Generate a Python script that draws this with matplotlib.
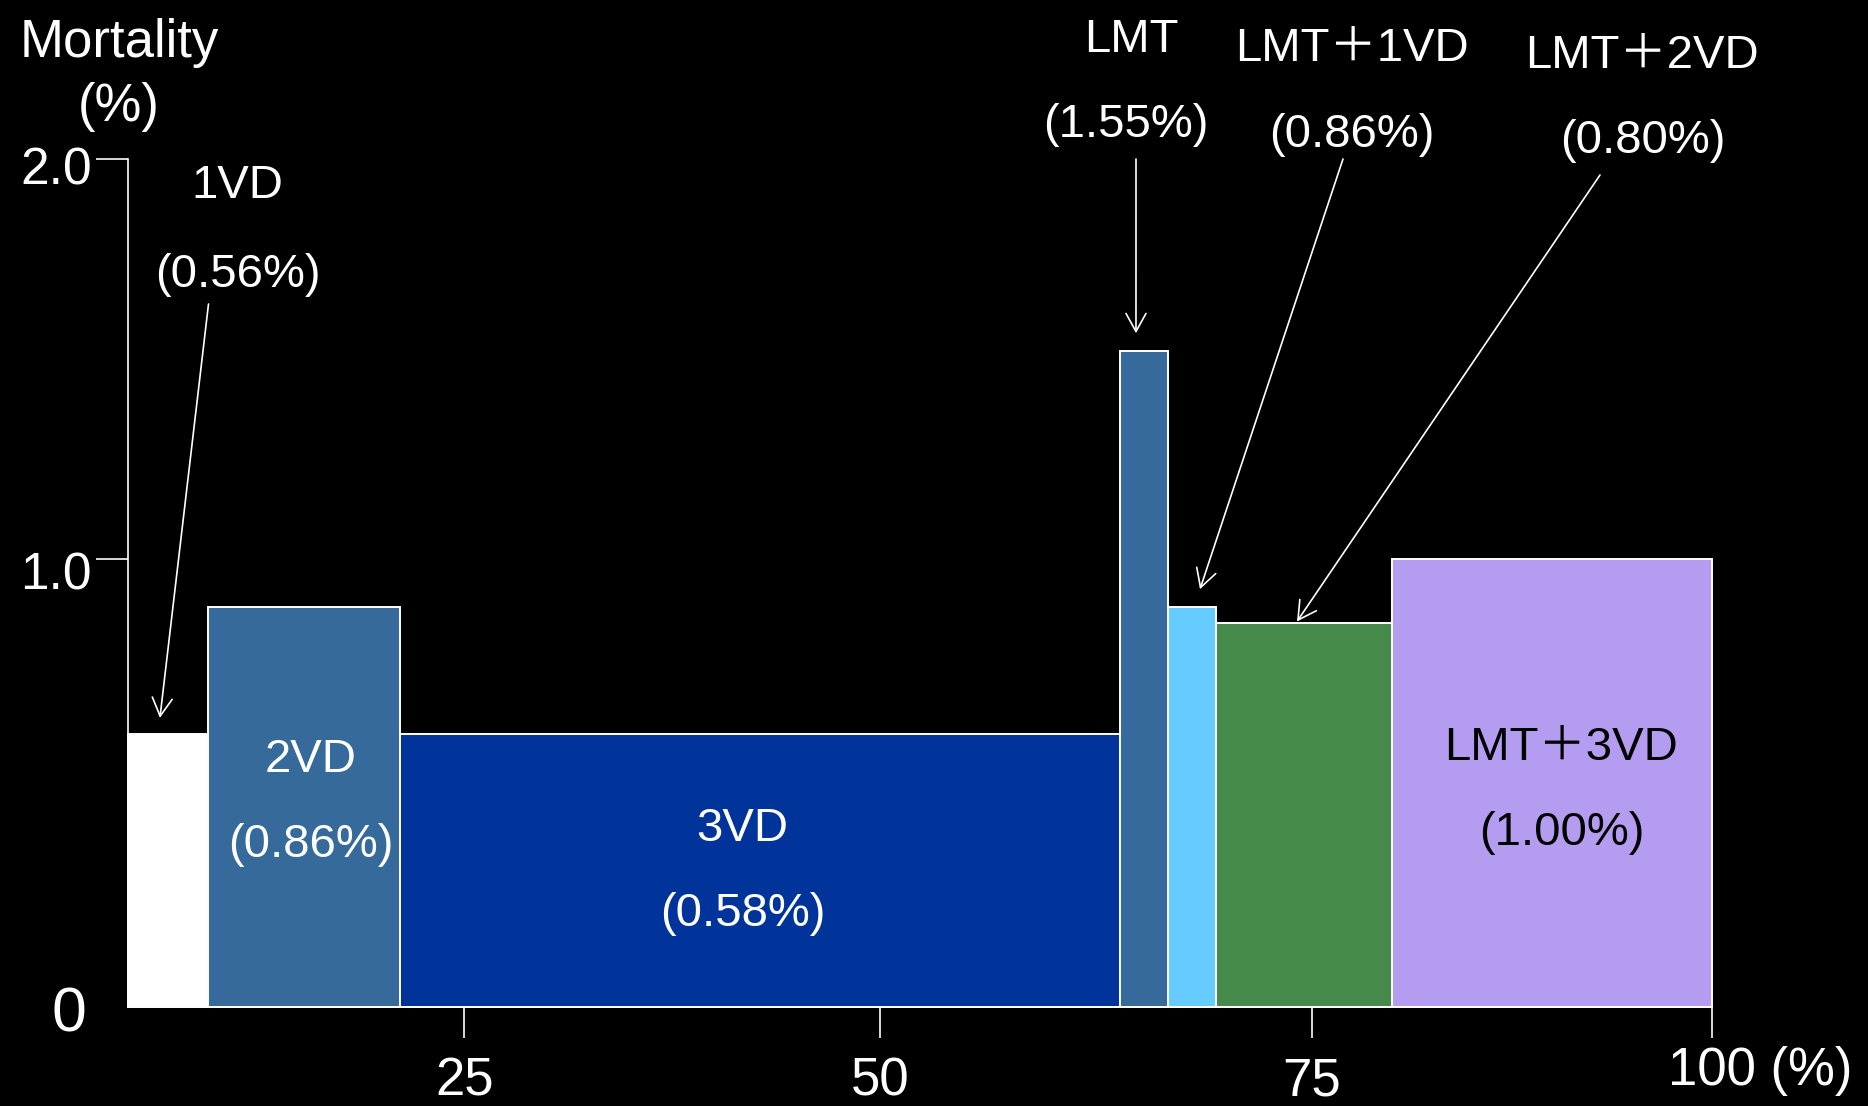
import matplotlib
matplotlib.use("Agg")
import matplotlib.pyplot as plt
import matplotlib.transforms as mtransforms

plt.rcParams['font.family'] = ['Liberation Sans', 'Noto Sans CJK JP', 'DejaVu Sans']

# ---------------- data ----------------
categories = ["1VD", "2VD", "3VD", "LMT", "LMT＋1VD", "LMT＋2VD", "LMT＋3VD"]
share_pct = [5.03, 12.14, 45.45, 3.03, 3.03, 11.10, 20.22]          # bar widths (% of cases)
bar_height = [0.609, 0.892, 0.609, 1.463, 0.893, 0.857, 1.000]      # mortality as drawn
mortality_label = ["0.56", "0.86", "0.58", "1.55", "0.86", "0.80", "1.00"]
bar_colors = ["#FFFFFF", "#366A9A", "#00349B", "#366A9A", "#66CCFF", "#468A4B", "#B49DF0"]

x_tick_vals = [21.23, 47.47, 74.72, 100]
x_tick_labels = ["25", "50", "75", "100 (%)"]
y_tick_vals = [0, 1.0, 1.891]
y_tick_labels = ["0", "1.0", "2.0"]

# ---------------- layout (pixel positions in a 1868x1106 canvas) ----------------
W, H = 1868, 1106
def fx(px):
    return px / W
def fy(py):
    return 1 - py / H

fig = plt.figure(figsize=(W / 100, H / 100), dpi=100, facecolor='black')
ax = fig.add_axes([fx(128), fy(1007), (1712 - 128) / W, (1007 - 159.3) / H])
ax.set_facecolor('black')

lefts = []
acc = 0.0
for w in share_pct:
    lefts.append(acc)
    acc += w

ax.bar(lefts, bar_height, width=share_pct, align='edge', color=bar_colors,
       edgecolor='white', linewidth=1.4, clip_on=False, zorder=2)

ax.set_xlim(0, 100)
ax.set_ylim(0, y_tick_vals[-1])
for s in ['top', 'right']:
    ax.spines[s].set_visible(False)
for s in ['left', 'bottom']:
    ax.spines[s].set_color('white')
    ax.spines[s].set_linewidth(1.2)
    ax.spines[s].set_zorder(3)

ax.set_xticks(x_tick_vals)
ax.set_xticklabels([])
ax.set_yticks(y_tick_vals[1:])
ax.set_yticklabels([])
ax.tick_params(axis='x', direction='out', length=22.3, width=1.2, color='white')
ax.tick_params(axis='y', direction='out', length=23, width=1.2, color='white')

# tick label texts
xt = mtransforms.blended_transform_factory(ax.transData, fig.transFigure)
for v, lab in zip(x_tick_vals[:-1], x_tick_labels[:-1]):
    fig.text(v, fy(1095), lab, transform=xt, ha='center', va='baseline',
             color='white', fontsize=38)
fig.text(fx(1760), fy(1085), x_tick_labels[-1], ha='center', va='baseline',
         color='white', fontsize=38)

fig.text(fx(92), fy(185), y_tick_labels[2], ha='right', va='baseline', color='white', fontsize=37)
fig.text(fx(92), fy(589), y_tick_labels[1], ha='right', va='baseline', color='white', fontsize=37)
fig.text(fx(69), fy(1032), y_tick_labels[0], ha='center', va='baseline', color='white', fontsize=45)

# axis title
fig.text(fx(119.5), fy(57), "Mortality", ha='center', va='baseline', color='white', fontsize=38)
fig.text(fx(119), fy(121), "(%)", ha='center', va='baseline', color='white', fontsize=38)

# category labels: index -> (name x, name baseline, pct x, pct baseline, colour)
label_pos = {
    0: (237.5, 198, 237.5, 287, 'white'),
    1: (311, 772, 311, 857, 'white'),
    2: (742.5, 841, 743, 926, 'white'),
    3: (1131, 52, 1126, 137, 'white'),
    4: (1351.5, 61, 1351.5, 147, 'white'),
    5: (1641.5, 68, 1642.5, 153, 'white'),
    6: (1561, 760, 1561.5, 845, 'black'),
}
for i, (nx, ny, px_, py_, c) in label_pos.items():
    fig.text(fx(nx), fy(ny), categories[i], ha='center', va='baseline', color=c, fontsize=34)
    fig.text(fx(px_), fy(py_), f"({mortality_label[i]}%)", ha='center', va='baseline',
             color=c, fontsize=34)

# arrows for the outside labels: index -> (tip dx, tip dy, start px x, start px y)
arrow_spec = {
    0: (-0.5, 0.036, 208.5, 304),
    3: (-0.5, 0.040, 1136, 159),
    4: (0.51, 0.039, 1343, 159),
    5: (-0.43, 0.003, 1600, 175),
}
for i, (dx, dy, sx, sy) in arrow_spec.items():
    cx = lefts[i] + share_pct[i] / 2 + dx
    cy = bar_height[i] + dy
    ax.annotate('', xy=(cx, cy), xycoords='data',
                xytext=(fx(sx), fy(sy)), textcoords='figure fraction',
                arrowprops=dict(arrowstyle='->,head_length=0.65,head_width=0.36',
                                color='white', lw=1.2, shrinkA=0, shrinkB=0,
                                mutation_scale=20),
                annotation_clip=False, zorder=4)

fig.savefig('out.png', dpi=100, facecolor='black')
